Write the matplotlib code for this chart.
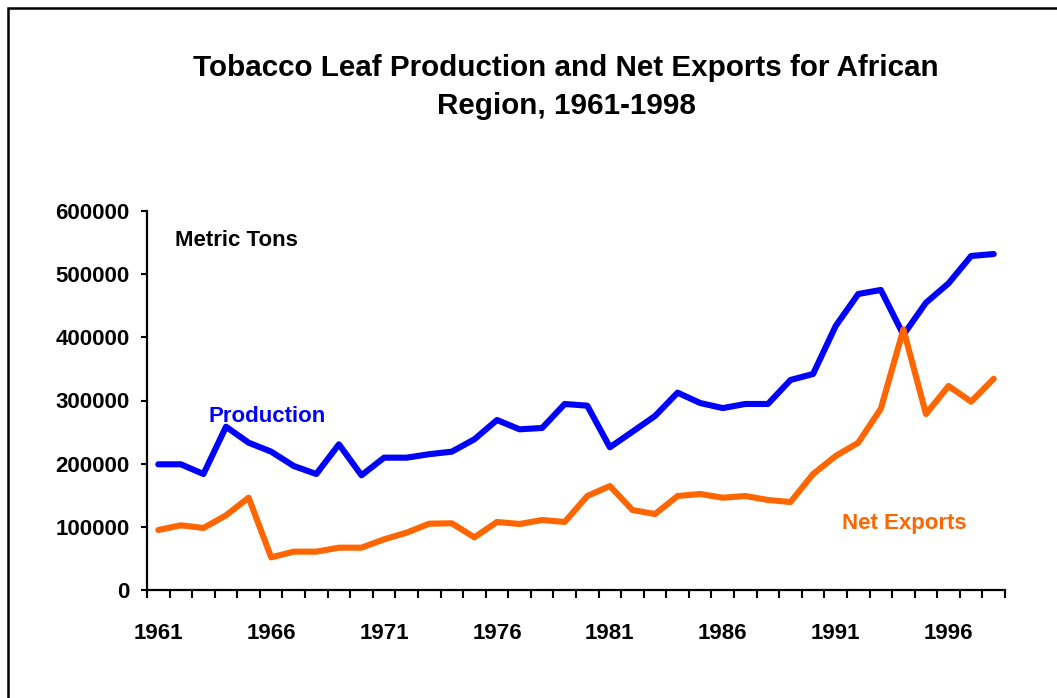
import numpy as np
import matplotlib.pyplot as plt
from matplotlib.patches import Rectangle

plt.rcParams['font.family'] = ['Liberation Sans', 'DejaVu Sans']
plt.rcParams['font.weight'] = 'bold'

years = list(range(1961, 1999))
production = [199000, 199000, 183600, 258500, 233200, 219000, 196300, 183600, 230600, 181600,
              209500, 209500, 215000, 219000, 238600, 269100, 254400, 256500, 294500, 291800,
              225900, 250600, 275500, 312400, 296000, 288000, 294500, 294500, 332500, 342000,
              417900, 468600, 475000, 404000, 454800, 485500, 528800, 531900]
net_exports = [95000, 102400, 98200, 118200, 146200, 51700, 60700, 60700, 67000, 67000,
               80200, 90800, 105000, 105600, 83400, 107700, 104500, 110800, 107700, 148800,
               164600, 126600, 120300, 148800, 152000, 146100, 148800, 142500, 139300, 183600,
               212100, 233200, 287000, 412700, 278600, 323000, 298100, 334500]
label_years = [1961, 1966, 1971, 1976, 1981, 1986, 1991, 1996]
y_ticks = [0, 100000, 200000, 300000, 400000, 500000, 600000]

fig = plt.figure(figsize=(10.57, 6.98), dpi=100)
ax = fig.add_axes([147/1057, 1-590/698, (1005-147)/1057, (590-211)/698])

ax.plot(years, production, color='#0000FF', lw=4.4, solid_joinstyle='round', solid_capstyle='round')
ax.plot(years, net_exports, color='#FF6600', lw=4.4, solid_joinstyle='round', solid_capstyle='round')

ax.set_xlim(1960.5, 1998.5)
ax.set_ylim(0, 600000)

# category boundaries get the tick marks, labels sit on the year itself
ax.set_xticks(np.arange(1960.5, 1999, 1.0))
ax.set_xticklabels([])
ax.set_xticks(label_years, minor=True)
ax.set_xticklabels([str(y) for y in label_years], minor=True)
ax.tick_params(axis='x', which='major', length=6, width=1.5, direction='out')
ax.tick_params(axis='x', which='minor', length=0, pad=24, labelsize=16)

ax.set_yticks(y_ticks)
ax.set_yticklabels([str(v) for v in y_ticks])
ax.tick_params(axis='y', length=4.5, width=1.5, direction='out', pad=8, labelsize=16)

for s in ['top', 'right']:
    ax.spines[s].set_visible(False)
for s in ['left', 'bottom']:
    ax.spines[s].set_linewidth(1.6)

fig.text(175/1057, 1-240/698, 'Metric Tons', fontsize=16, fontweight='bold', va='center')
fig.text(209/1057, 1-416/698, 'Production', color='#0000FF', fontsize=16, fontweight='bold', va='center')
fig.text(842/1057, 1-524/698, 'Net Exports', color='#FF6600', fontsize=16, fontweight='bold', va='center')

fig.text(566/1057, 1-87/698, 'Tobacco Leaf Production and Net Exports for African\nRegion, 1961-1998',
         ha='center', va='center', fontsize=21.3, fontweight='bold', linespacing=1.45)

fig.patches.append(Rectangle((8/1057, -0.5), 2, 1.5 - 8/698, transform=fig.transFigure,
                             fill=False, edgecolor='black', lw=1.8))

fig.savefig('out.png', dpi=100)
